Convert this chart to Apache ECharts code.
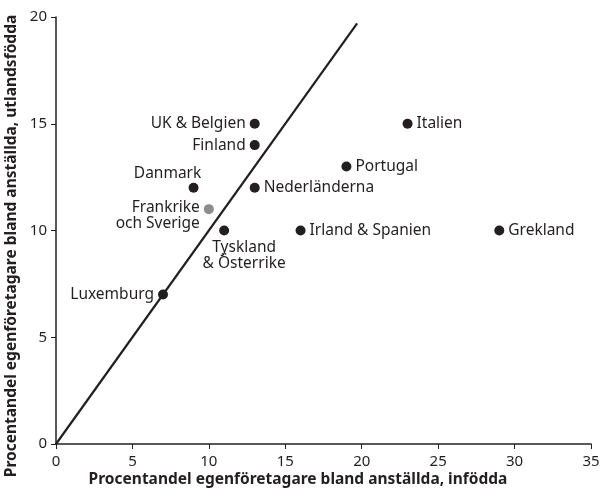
<!DOCTYPE html>
<html><head><meta charset="utf-8">
<script src="https://cdn.jsdelivr.net/npm/echarts@6/dist/echarts.min.js"></script>
<style>html,body{margin:0;padding:0;background:#fff}#c{width:600px;height:488px}</style>
</head><body><div id="c"></div>
<script>
const countries = ["UK & Belgien","Finland","Danmark","Frankrike\noch Sverige","Tyskland\n& Österrike","Nederländerna","Portugal","Italien","Irland & Spanien","Grekland","Luxemburg"];
const xNative = [13,13,9,10,11,13,19,23,16,29,7];
const yForeign = [15,14,12,11,10,12,13,15,10,10,7];
const labelPos = ["left","left","topLeft","leftLow","bottomRight","right","right","right","right","right","left"];
const highlight = [false,false,false,true,false,false,false,false,false,false,false];
const diagonal = [[0,0],[19.7,19.7]];
const xTitle = "Procentandel egenföretagare bland anställda, infödda";
const yTitle = "Procentandel egenföretagare bland anställda, utlandsfödda";

const font = "Noto Sans";
const posMap = {
  left:{position:'left',distance:4,align:'right'},
  leftLow:{position:'left',distance:4,align:'right',offset:[0,6]},
  right:{position:'right',distance:4},
  topLeft:{position:'top',distance:1,offset:[-26,0]},
  bottomRight:{position:'bottom',distance:4,offset:[20,0],align:'center'}
};
const data = countries.map((n,i)=>{
  const p = posMap[labelPos[i]];
  return {
    name:n, value:[xNative[i],yForeign[i]],
    itemStyle:{color: highlight[i] ? '#8c8c8c' : '#231f20', opacity:1},
    label:Object.assign({show:true, formatter:'{b}', color:'#231f20', fontFamily:font, fontSize:15.5, lineHeight:16}, p)
  };
});
const titleStyle = {fill:'#231f20',font:'bold 15.5px "Noto Sans"',textAlign:'center',textVerticalAlign:'middle'};
const chart = echarts.init(document.getElementById('c'));
chart.setOption({
  animation:false,
  grid:{left:56,right:9,top:17,bottom:44,containLabel:false,outerBoundsMode:'none'},
  graphic:[
    {type:'text',x:298,y:480,style:Object.assign({text:xTitle},titleStyle)},
    {type:'text',x:12,y:246,rotation:Math.PI/2,style:Object.assign({text:yTitle},titleStyle)}
  ],
  xAxis:{type:'value',min:0,max:35,interval:5,
    axisLine:{lineStyle:{color:'#231f20',width:1.5}},
    axisTick:{show:true,length:5,lineStyle:{color:'#231f20'}},
    axisLabel:{color:'#231f20',fontFamily:font,fontSize:15,margin:10},
    splitLine:{show:false}},
  yAxis:{type:'value',min:0,max:20,interval:5,
    axisLine:{show:true,lineStyle:{color:'#231f20',width:1.5}},
    axisTick:{show:true,length:5,lineStyle:{color:'#231f20'}},
    axisLabel:{color:'#231f20',fontFamily:font,fontSize:15,margin:9},
    splitLine:{show:false}},
  series:[
    {type:'line',data:diagonal,symbol:'none',lineStyle:{color:'#231f20',width:2.2},z:1,silent:true},
    {type:'scatter',data:data,symbolSize:10,z:3,itemStyle:{opacity:1}}
  ]
});
</script></body></html>
